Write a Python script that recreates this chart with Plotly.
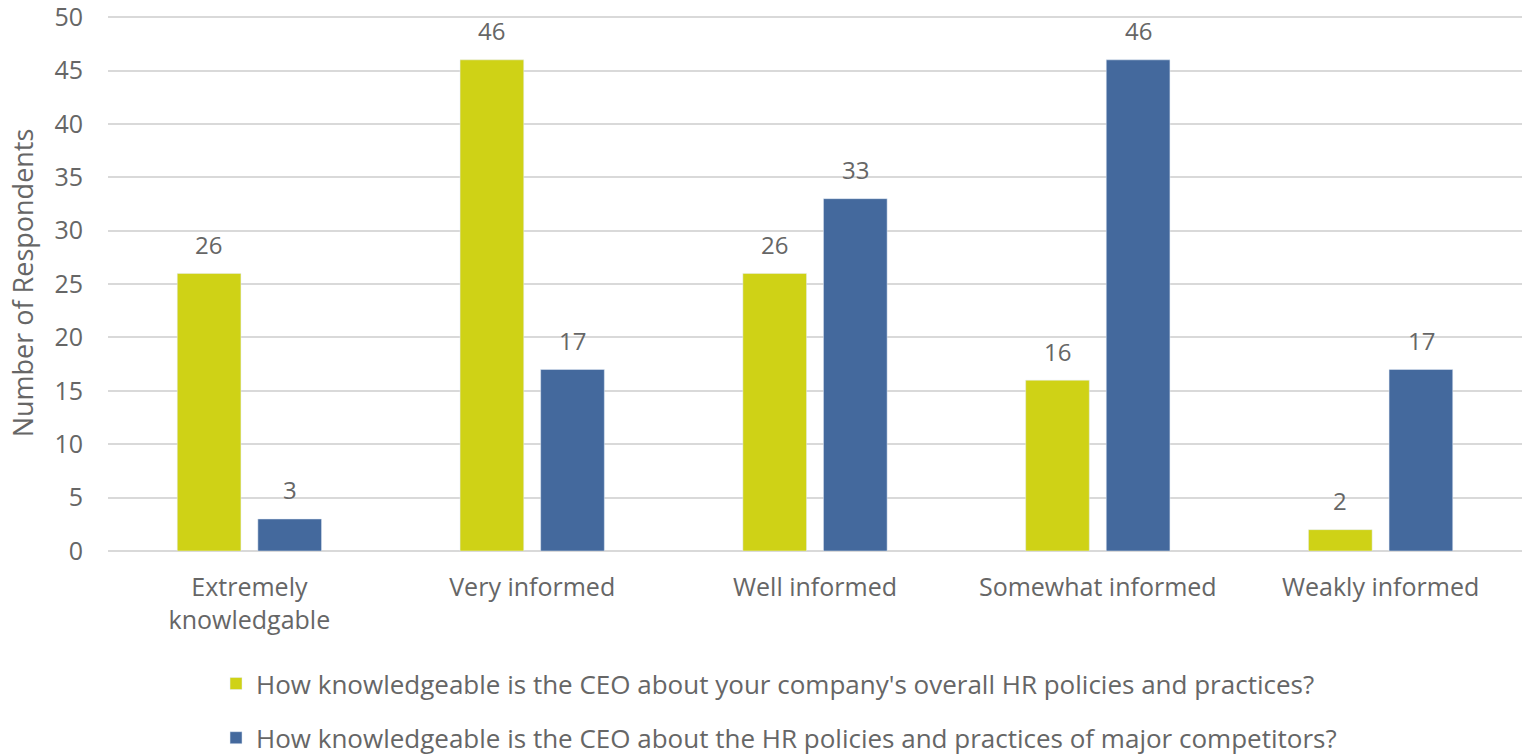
import plotly.graph_objects as go

categories = ["Extremely<br>knowledgable", "Very informed", "Well informed", "Somewhat informed", "Weakly informed"]
series1_name = "How knowledgeable is the CEO about your company's overall HR policies and practices?"
series2_name = "How knowledgeable is the CEO about the HR policies and practices of major competitors?"
series1 = [26, 46, 26, 16, 2]
series2 = [3, 17, 33, 46, 17]

c1 = "#CFD216"
c2 = "#44699D"
txt = "#666666"
FONT = "Open Sans"

fig = go.Figure()
fig.add_trace(go.Bar(x=categories, y=series1, name=series1_name, marker_color=c1, legend="legend"))
fig.add_trace(go.Bar(x=categories, y=series2, name=series2_name, marker_color=c2, legend="legend2"))

# data labels
for vals, shift in ((series1, -40.5), (series2, 40.5)):
    for c, v in zip(categories, vals):
        fig.add_annotation(x=c, y=v, text=str(v), showarrow=False, xref="x", yref="y",
                           xshift=shift, yshift=29, yanchor="middle",
                           font=dict(family=FONT, size=24, color=txt))

fig.update_layout(
    width=1522, height=755,
    margin=dict(l=108, r=0, t=15, b=204, autoexpand=False),
    paper_bgcolor="white", plot_bgcolor="white",
    bargap=0.43, bargroupgap=0.21, barmode="group",
    font=dict(family=FONT, size=24, color=txt),
    xaxis=dict(showgrid=False, showline=False, ticks="", automargin=False,
               ticklabelstandoff=19, tickfont=dict(size=25, color=txt)),
    yaxis=dict(range=[0, 50.2], tickvals=[0, 5, 10, 15, 20, 25, 30, 35, 40, 45, 50],
               showgrid=True, gridcolor="#D9D9D9", gridwidth=1.5,
               zeroline=True, zerolinecolor="#D9D9D9", zerolinewidth=1.5, automargin=False,
               ticks="", ticklabelstandoff=24, ticklabeloverflow="allow",
               tickfont=dict(size=25, color=txt),
               title=dict(text="Number of Respondents", font=dict(size=27, color=txt), standoff=12)),
    legend=dict(x=0.0764, y=-0.2474, xanchor="left", yanchor="middle", orientation="h",
                font=dict(size=26, color=txt), bgcolor="rgba(0,0,0,0)"),
    legend2=dict(x=0.0764, y=-0.3485, xanchor="left", yanchor="middle", orientation="h",
                 font=dict(size=26, color=txt), bgcolor="rgba(0,0,0,0)"),
    showlegend=True,
)

fig.write_html("out.html", config={"responsive": False, "displayModeBar": False},
               post_script="document.body.style.margin='0px';document.body.style.overflow='hidden';")
